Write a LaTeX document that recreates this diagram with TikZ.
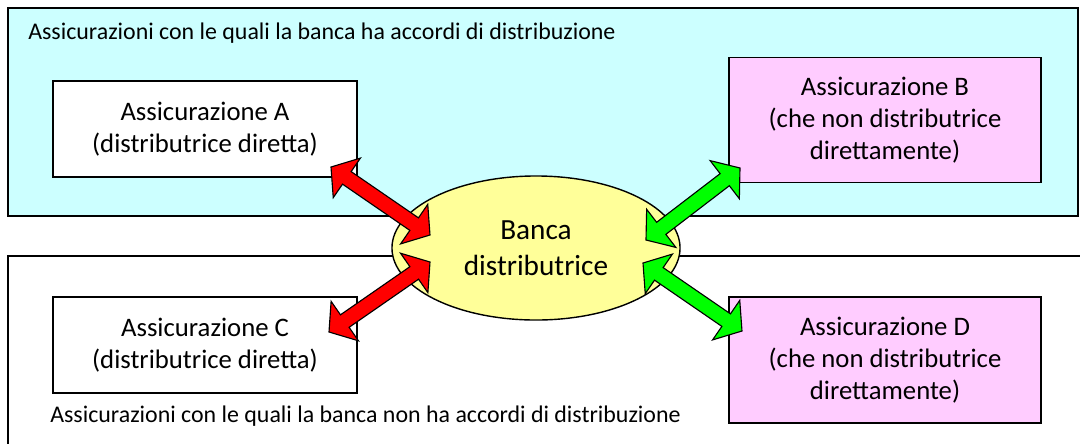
\documentclass[tikz,border=0pt]{standalone}
\usepackage{fontspec}
\setmainfont{Carlito}
\usetikzlibrary{calc,shapes.geometric}

\definecolor{dealblue}{HTML}{CCFFFF}
\definecolor{indirectpink}{HTML}{FFCCFF}
\definecolor{bankyellow}{HTML}{FFFF99}
\definecolor{linkred}{HTML}{FF0000}
\definecolor{linkgreen}{HTML}{00FF00}

\newcommand{\blockarrow}[3]{%
  \coordinate (h1) at ($(#1)!0.48cm!(#2)$);
  \coordinate (h2) at ($(#2)!0.48cm!(#1)$);
  \filldraw[fill=#3, draw=black, line width=0.8pt, line join=miter]
    (#1) -- ($(h1)!0.6cm!90:(#2)$) -- ($(h1)!0.19cm!90:(#2)$)
    -- ($(h2)!0.19cm!-90:(#1)$) -- ($(h2)!0.6cm!-90:(#1)$) -- (#2)
    -- ($(h2)!0.6cm!90:(#1)$) -- ($(h2)!0.19cm!90:(#1)$)
    -- ($(h1)!0.19cm!-90:(#2)$) -- ($(h1)!0.6cm!-90:(#2)$) -- cycle;
}

\begin{document}
\begin{tikzpicture}[x=0.025cm, y=-0.025cm,
    area/.style = {draw, line width=1.2pt},
    company/.style = {
      draw,
      line width=1pt,
      minimum width=7.6cm,
      align=center,
      font=\fontsize{19}{23}\selectfont
    },
    note/.style = {anchor=west, inner sep=0pt, font=\fontsize{17}{20}\selectfont}
  ]
  \useasboundingbox (0,0) rectangle (1080,443);
  \begin{scope}
    \clip (0,0) rectangle (1080,443);
    \draw[area, fill=dealblue] (8,8) rectangle (1078,216);
    \draw[area, fill=white] (8,256) rectangle (1090,460);
  \end{scope}

  \node[note] (withdeal) at (28,33)
    {Assicurazioni con le quali la banca ha accordi di distribuzione};
  \node[note] (nodeal) at (50,416)
    {Assicurazioni con le quali la banca non ha accordi di distribuzione};

  \node[company, fill=white, minimum height=2.4cm] (boxA) at (205,129)
    {Assicurazione A\\(distributrice diretta)};
  \node[company, fill=indirectpink, minimum width=7.8cm, minimum height=3.125cm] (boxB) at (885,120)
    {Assicurazione B\\(che non distributrice\\direttamente)};
  \node[company, fill=white, minimum height=2.4cm] (boxC) at (205,345)
    {Assicurazione C\\(distributrice diretta)};
  \node[company, fill=indirectpink, minimum width=7.8cm, minimum height=3.15cm] (boxD) at (885,360)
    {Assicurazione D\\(che non distributrice\\direttamente)};

  \node[draw, line width=1pt, ellipse, fill=bankyellow, minimum width=7.2cm, minimum height=3.6cm,
        inner sep=0pt, align=center, font=\fontsize{20.8}{25.8}\selectfont] (banca) at (536,248)
    {Banca\\distributrice};

  \coordinate (tipA) at (331,167);
  \coordinate (tipAb) at (430,235);
  \coordinate (tipC) at (329,332);
  \coordinate (tipCb) at (430,262);
  \coordinate (tipB) at (740,168);
  \coordinate (tipBb) at (646,240);
  \coordinate (tipD) at (742,331);
  \coordinate (tipDb) at (643,263);

  \blockarrow{tipA}{tipAb}{linkred}
  \blockarrow{tipC}{tipCb}{linkred}
  \blockarrow{tipB}{tipBb}{linkgreen}
  \blockarrow{tipD}{tipDb}{linkgreen}
\end{tikzpicture}
\end{document}
